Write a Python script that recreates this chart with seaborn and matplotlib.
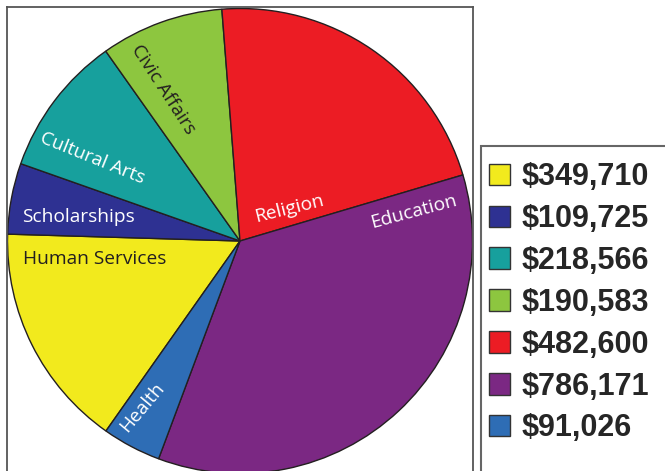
import matplotlib
matplotlib.use("Agg")
import matplotlib.pyplot as plt
import numpy as np
import seaborn as sns
from matplotlib.patches import Patch, Rectangle

# ---------------------------------------------------------------------------
# Data
# ---------------------------------------------------------------------------
CATEGORIES = ["Human Services", "Scholarships", "Cultural Arts", "Civic Affairs",
              "Religion", "Education", "Health"]
AMOUNTS = [349710, 109725, 218566, 190583, 482600, 786171, 91026]
LEGEND_LABELS = ["$349,710", "$109,725", "$218,566", "$190,583",
                 "$482,600", "$786,171", "$91,026"]

# ---------------------------------------------------------------------------
# Style
# ---------------------------------------------------------------------------
COLORS = sns.color_palette(["#F2EA1D", "#2E3192", "#17A09D", "#8DC63F",
                            "#EC1C24", "#7B2883", "#2E6DB5"])
TEXT_COLORS = ["#231F20", "white", "white", "#231F20", "white", "white", "white"]
# label placement: (angle deg, radius px, rotation deg)
LABEL_POS = [(187, 146, 0), (171.5, 163, 0), (150.5, 169, -22), (117, 170, -57),
             (33, 59, 14), (9.5, 176, 15), (239.4, 193, 50)]

W, H = 665, 471
CX, CY, R = 240, 241, 232.5

sns.set_style("white")
plt.rcParams["font.family"] = ["Open Sans", "DejaVu Sans"]

fig = plt.figure(figsize=(W / 100, H / 100), dpi=100)

# pie axes: 1 data unit == 1 pixel
ax_left, ax_top, ax_right, ax_bottom = 7, 7, 473, H + 12
ax = fig.add_axes([ax_left / W, (H - ax_bottom) / H,
                   (ax_right - ax_left) / W, (ax_bottom - ax_top) / H])

total = sum(AMOUNTS)
start = 178.3 + 360 * AMOUNTS[0] / total
ax.pie(AMOUNTS, colors=COLORS, startangle=start, counterclock=False,
       radius=R, wedgeprops=dict(edgecolor="#231F20", linewidth=1.0))

for name, tc, (ang, r, rot) in zip(CATEGORIES, TEXT_COLORS, LABEL_POS):
    a = np.deg2rad(ang)
    ax.text(r * np.cos(a), r * np.sin(a), name, color=tc, fontsize=13.8,
            ha="center", va="center", rotation=rot, rotation_mode="anchor")

ax.set_aspect("auto")
ax.set_xlim(ax_left - CX, ax_right - CX)
ax.set_ylim(CY - ax_bottom, CY - ax_top)
ax.set_frame_on(True)
for sp in ax.spines.values():
    sp.set_color("#555555")
    sp.set_linewidth(1.3)
ax.set_xticks([])
ax.set_yticks([])

# legend frame (runs past the figure edge)
fig.add_artist(Rectangle((481 / W, -0.1), 0.4, (H - 146) / H + 0.1,
                         transform=fig.transFigure, fill=False,
                         edgecolor="#666666", linewidth=1.5))

handles = [Patch(facecolor=c, edgecolor="#333333", linewidth=1.0) for c in COLORS]
fig.legend(handles, LEGEND_LABELS, loc="upper left",
           bbox_to_anchor=(489 / W, 1 - 162 / H), frameon=False,
           prop=dict(family="Liberation Sans", weight="bold", size=22),
           handlelength=0.7, handleheight=0.7, handletextpad=0.36,
           labelspacing=0.39, borderpad=0, borderaxespad=0)

fig.savefig("out.png", dpi=100)
